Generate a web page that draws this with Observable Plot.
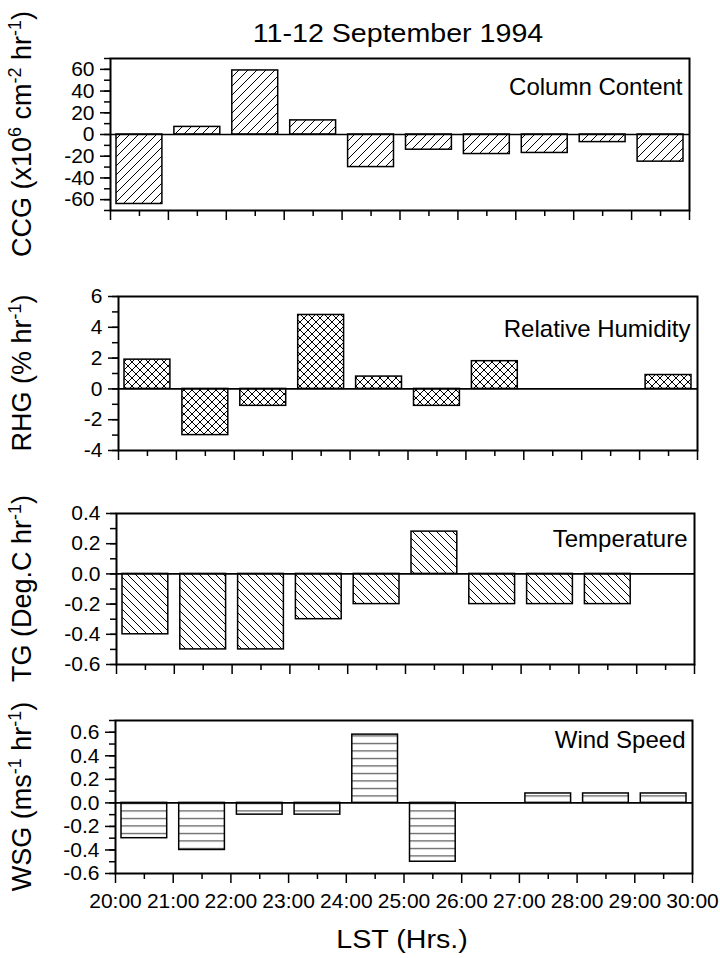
<!DOCTYPE html>
<html>
<head>
<meta charset="utf-8">
<script src="https://cdn.jsdelivr.net/npm/d3@7"></script>
<script src="https://cdn.jsdelivr.net/npm/@observablehq/plot@0.6"></script>
<style>
  body { margin: 0; background: #fff; }
  #chart { position: relative; width: 720px; height: 958px; font-family: "Liberation Sans", Arial, sans-serif; color: #000; overflow: hidden; }
  #chart > svg { position: absolute; left: 0; }
</style>
</head>
<body>
<svg width="0" height="0" style="position:absolute;left:0;top:0">
  <defs>
    <pattern id="hatchFwd" patternUnits="userSpaceOnUse" width="9" height="9">
      <path d="M0,9 L9,0 M-2,2 L2,-2 M7,11 L11,7" stroke="#000" stroke-width="1" fill="none"/>
    </pattern>
    <pattern id="hatchCross" patternUnits="userSpaceOnUse" width="8" height="8">
      <path d="M0,0 L8,8 M8,0 L0,8 M-1,7 L1,9 M7,-1 L9,1 M-1,1 L1,-1 M7,9 L9,7" stroke="#000" stroke-width="1" fill="none"/>
    </pattern>
    <pattern id="hatchBack" patternUnits="userSpaceOnUse" width="8" height="8">
      <path d="M0,0 L8,8 M-2,6 L2,10 M6,-2 L10,2" stroke="#000" stroke-width="1" fill="none"/>
    </pattern>
    <pattern id="hatchHoriz" patternUnits="userSpaceOnUse" width="8" height="7.5">
      <path d="M0,3.5 H8" stroke="#333" stroke-width="1" fill="none"/>
    </pattern>
  </defs>
</svg>
<div id="chart"></div>
<script>
// ---------- data ----------
const hours = [20, 21, 22, 23, 24, 25, 26, 27, 28, 29];
const ccgValues = [-64, 7, 59, 13, -30, -14, -18, -17, -7, -25];
const rhgValues = [1.9, -3.0, -1.1, 4.8, 0.8, -1.1, 1.8, 0, 0, 0.9];
const tgValues  = [-0.4, -0.5, -0.5, -0.3, -0.2, 0.28, -0.2, -0.2, -0.2, 0];
const wsgValues = [-0.3, -0.4, -0.1, -0.1, 0.58, -0.5, 0, 0.08, 0.08, 0.08];

const hourTicks = [20, 21, 22, 23, 24, 25, 26, 27, 28, 29, 30];
const hourTickLabels = ["20:00", "21:00", "22:00", "23:00", "24:00", "25:00", "26:00", "27:00", "28:00", "29:00", "30:00"];

const ccgTicks = [-60, -40, -20, 0, 20, 40, 60];
const rhgTicks = [-4, -2, 0, 2, 4, 6];
const tgTicks  = [-0.6, -0.4, -0.2, 0.0, 0.2, 0.4];
const wsgTicks = [-0.6, -0.4, -0.2, 0.0, 0.2, 0.4, 0.6];

const panelNames = ["Column Content", "Relative Humidity", "Temperature", "Wind Speed"];
const chartTitle = "11-12 September 1994";
const xTitle = "LST (Hrs.)";
// y titles: [text, isSuperscript]
const ccgTitle = [["CCG (x10", 0], ["6", 1], [" cm", 0], ["-2", 1], [" hr", 0], ["-1", 1], [")", 0]];
const rhgTitle = [["RHG (% hr", 0], ["-1", 1], [")", 0]];
const tgTitle  = [["TG (Deg.C hr", 0], ["-1", 1], [")", 0]];
const wsgTitle = [["WSG (ms", 0], ["-1", 1], [" hr", 0], ["-1", 1], [")", 0]];

// ---------- layout ----------
const W = 720;
const FONT = '"Liberation Sans", Arial, sans-serif';
const panels = [
  {values: ccgValues, name: panelNames[0], title: ccgTitle, ticks: ccgTicks, domain: [-70, 70], minorStep: 10,
   fmt: d => String(d), pattern: "hatchFwd", left: 110, right: 689, top: 58, bottom: 210, nameDy: 19, showX: false},
  {values: rhgValues, name: panelNames[1], title: rhgTitle, ticks: rhgTicks, domain: [-4, 6], minorStep: 1,
   fmt: d => String(d), pattern: "hatchCross", left: 118, right: 697, top: 296, bottom: 450, nameDy: 23, showX: false},
  {values: tgValues, name: panelNames[2], title: tgTitle, ticks: tgTicks, domain: [-0.6, 0.4], minorStep: 0.1,
   fmt: d => d.toFixed(1), pattern: "hatchBack", left: 116, right: 694, top: 513, bottom: 664, nameDy: 16, showX: false},
  {values: wsgValues, name: panelNames[3], title: wsgTitle, ticks: wsgTicks, domain: [-0.6, 0.7], minorStep: 0.1,
   fmt: d => d.toFixed(1), pattern: "hatchHoriz", left: 115, right: 692, top: 720, bottom: 873, nameDy: 10, showX: true}
];

const chart = document.getElementById("chart");
const halfHours = hourTicks.slice(0, -1).map(h => h + 0.5);

panels.forEach(p => {
  const mt = 10;
  const mb = p.showX ? 45 : 20;
  const data = hours.map((h, i) => ({h, v: p.values[i]})).filter(d => d.v !== 0);
  const minor = d3.range(p.domain[0], p.domain[1] + p.minorStep / 2, p.minorStep);
  const svg = Plot.plot({
    width: W,
    height: mt + (p.bottom - p.top) + mb,
    marginLeft: p.left,
    marginRight: W - p.right,
    marginTop: mt,
    marginBottom: mb,
    style: {fontFamily: FONT, fontSize: "21px", color: "#000", background: "transparent", overflow: "visible"},
    x: {domain: [20, 30]},
    y: {domain: p.domain},
    marks: [
      Plot.rect(data, {x1: "h", x2: d => d.h + 1, y1: d => 0, y2: "v", insetLeft: 6, insetRight: 6,
        fill: `url(#${p.pattern})`, stroke: "#000", strokeWidth: 1.5}),
      Plot.ruleY([0], {stroke: "#000", strokeWidth: 1.6}),
      Plot.frame({stroke: "#000", strokeWidth: 2}),
      Plot.axisY({ticks: p.ticks, tickSize: 10, tickPadding: 6, tickFormat: p.fmt, label: null,
        fontSize: 21, strokeWidth: 1.5}),
      Plot.axisY({ticks: minor, tickSize: 6, tickFormat: () => "", label: null, strokeWidth: 1.5}),
      Plot.axisX({ticks: hourTicks, tickSize: 10, tickPadding: 10,
        tickFormat: p.showX ? (d => hourTickLabels[hourTicks.indexOf(d)]) : (() => ""),
        label: null, fontSize: 21, strokeWidth: 1.5}),
      Plot.axisX({ticks: halfHours, tickSize: 6, tickFormat: () => "", label: null, strokeWidth: 1.5}),
      Plot.text([p.name], {frameAnchor: "top-right", dx: -7, dy: p.nameDy, lineAnchor: "top",
        fontSize: 24, fill: "#000"})
    ]
  });
  svg.style.top = (p.top - mt) + "px";
  chart.appendChild(svg);
});

// ---------- titles overlay ----------
const ov = d3.select(chart).append("svg")
  .attr("width", W).attr("height", 958)
  .style("top", "0px")
  .style("font-family", FONT)
  .style("pointer-events", "none");

ov.append("text")
  .attr("transform", "translate(398,42) scale(1.1,1)")
  .attr("text-anchor", "middle")
  .attr("font-size", 26)
  .text(chartTitle);

ov.append("text")
  .attr("transform", "translate(402,948) scale(1.1,1)")
  .attr("text-anchor", "middle")
  .attr("font-size", 26)
  .text(xTitle);

panels.forEach(p => {
  const yc = (p.top + p.bottom) / 2;
  const t = ov.append("text")
    .attr("transform", `translate(31,${yc}) rotate(-90)`)
    .attr("text-anchor", "middle")
    .attr("font-size", 27);
  let shifted = false;
  p.title.forEach(([s, sup]) => {
    const ts = t.append("tspan").text(s);
    if (sup) { ts.attr("font-size", 18).attr("dy", shifted ? 0 : -10); shifted = true; }
    else { ts.attr("dy", shifted ? 10 : 0); shifted = false; }
  });
});
</script>
</body>
</html>
